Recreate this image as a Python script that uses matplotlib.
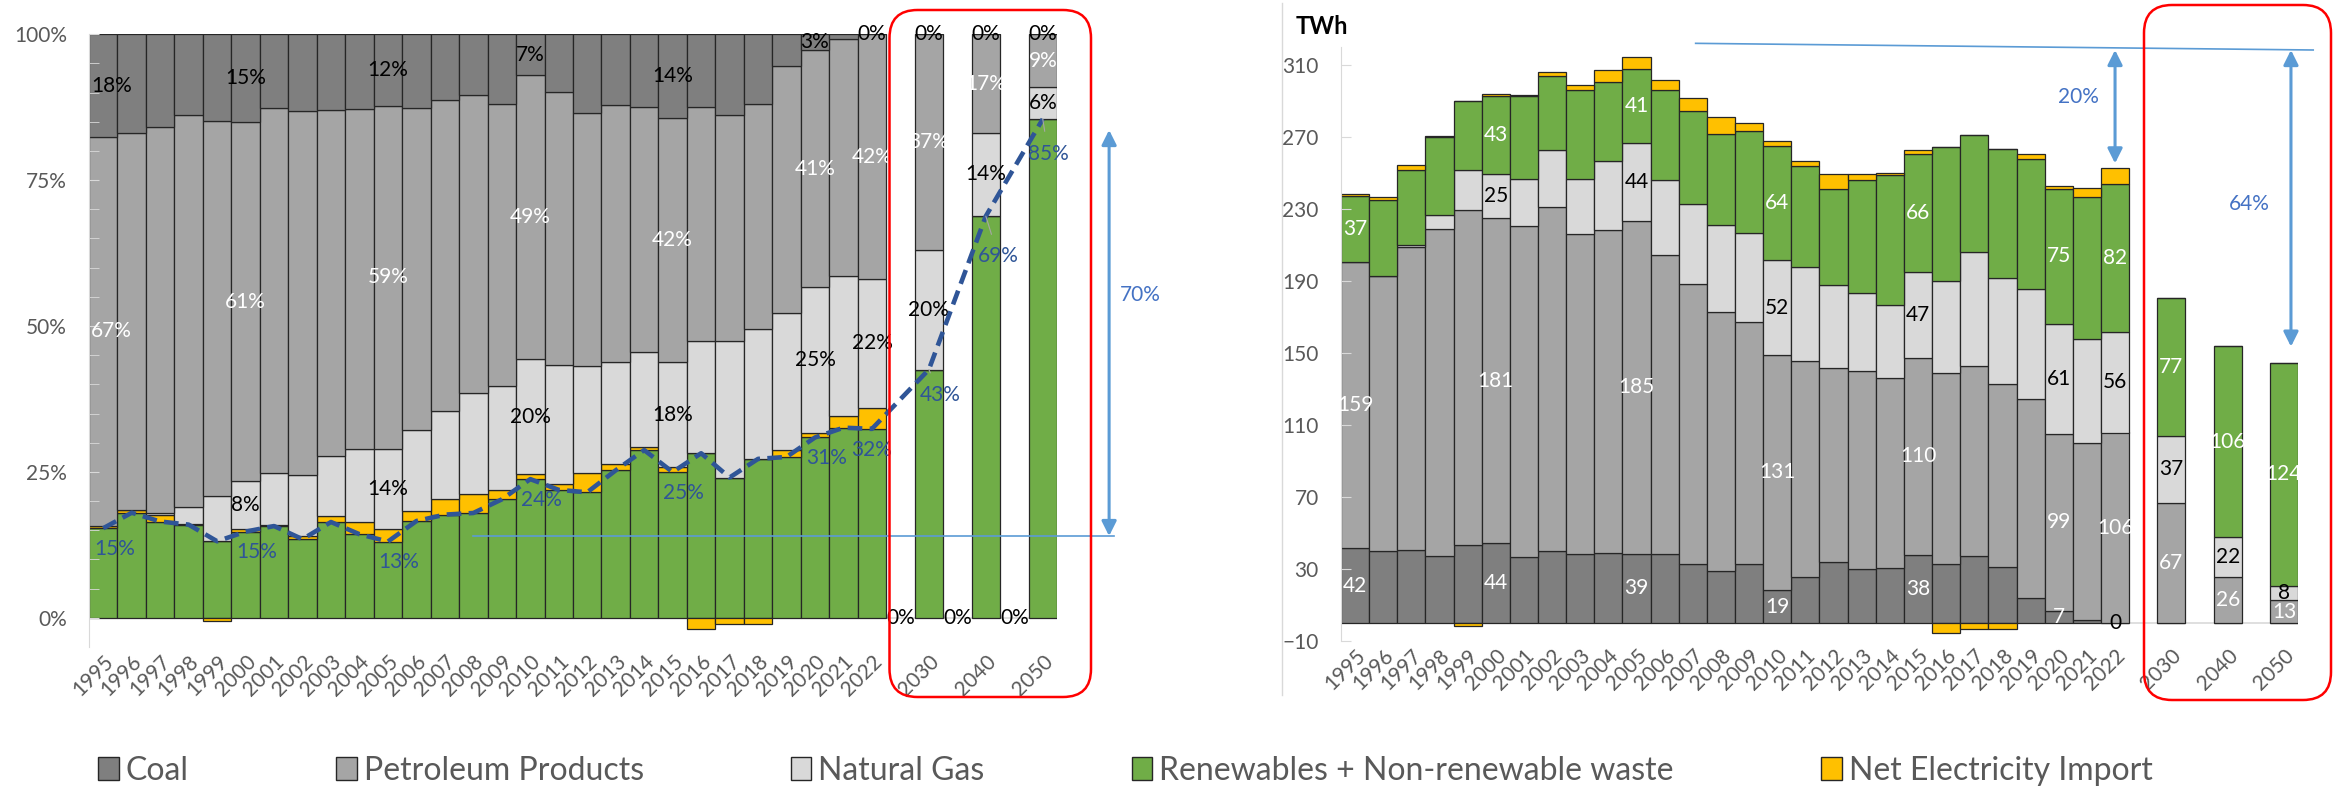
import numpy as np
import matplotlib.pyplot as plt
from matplotlib.patches import FancyBboxPatch, Patch

plt.rcParams['font.family'] = ['Lato', 'DejaVu Sans']

# Data (TWh)
years = [str(y) for y in range(1995, 2023)] + ['2030', '2040', '2050']
coal = [42, 40, 40.5, 37.4, 43.3, 44.4, 37, 40.4, 38.7, 39.3, 38.7, 38.3, 33.1, 29.3, 33.1,
        18.6, 25.6, 33.9, 30.4, 31, 37.8, 32.8, 37.4, 31.3, 14.3, 6.6, 2.1, 0, 0, 0, 0]
petroleum = [159, 152.8, 168.4, 181.7, 186.1, 180.6, 183.7, 190.9, 177.4, 179, 184.8, 166.5,
             155.6, 143.7, 134.3, 130.6, 120.2, 108, 109.6, 105.3, 109.8, 106.5, 105.4, 101.9,
             110.2, 98.8, 98.1, 106, 67, 26, 13]
gas = [0, 0, 1, 7.9, 22.6, 24.6, 26.3, 31.8, 30.9, 38.6, 43.6, 41.7, 44.1, 48.5, 49.5, 52.4,
       52.2, 45.9, 43.5, 40.7, 47.4, 50.7, 63.3, 58.7, 61.4, 60.9, 57.9, 56, 37, 22, 8]
renewables = [36.6, 42.6, 42, 43.2, 38, 43.4, 46.1, 41.2, 49.1, 44, 41.1, 50, 51.6, 50.5, 56.4,
              63.6, 56.3, 53.7, 63, 71.9, 65.6, 74.6, 65.2, 71.8, 71.9, 75.1, 78.8, 81.9,
              77, 106, 123.6]
imports = [1.0, 1.3, 2.8, 0.5, -1.5, 1.1, 0.3, 1.8, 3.2, 6.5, 6.6, 5.2, 7.6, 9.3, 4.7, 2.5,
           2.6, 8.3, 2.9, 1.3, 2.2, -5.3, -2.9, -2.9, 3.1, 1.7, 5, 9.1, 0, 0, 0]
label_years = ['1995', '2000', '2005', '2010', '2015', '2020', '2022', '2030', '2040', '2050']
gap_labels = ['0%', '0%', '0%']

series = ['Coal', 'Petroleum Products', 'Natural Gas',
          'Renewables + Non-renewable waste', 'Net Electricity Import']
colors = ['#7f7f7f', '#a5a5a5', '#d9d9d9', '#70ad47', '#ffc000']

# category slots: 28 historic years, then an empty slot before each scenario year
xpos = np.array(list(range(28)) + [29, 31, 33])
gap_pos = [28, 30, 32]

vals = np.array([coal, petroleum, gas, renewables, imports], dtype=float)
pos_total = vals[:4].sum(axis=0) + np.clip(vals[4], 0, None)
shares = vals / pos_total

W, H = 2333, 787
fig = plt.figure(figsize=(W / 100, H / 100), dpi=100)


def rect(x0, y0, x1, y1):
    return [x0 / W, 1 - y1 / H, (x1 - x0) / W, (y1 - y0) / H]


axL = fig.add_axes(rect(89, 34.3, 1057, 646.9))
axR = fig.add_axes(rect(1341, 47.3, 2298, 641.3))

EDGE = '#262626'
GREY = '#595959'
BLUE_TXT = '#2f5597'
ARROW = '#5b9bd5'
FS = 15


def stack(ax, data, order):
    # returns (bottom, top) of every series, stacked in the given order
    bottom = np.zeros(len(xpos))
    seg = {}
    for k in order:
        v = data[k]
        pos = np.clip(v, 0, None)
        neg = np.clip(v, None, 0)
        ax.bar(xpos, pos, 1.0, bottom=bottom, color=colors[k], edgecolor=EDGE, lw=0.9)
        if (neg < 0).any():
            m = neg < 0
            ax.bar(xpos[m], neg[m], 1.0, color=colors[k], edgecolor=EDGE, lw=0.9)
        seg[k] = (bottom.copy(), bottom + pos)
        bottom = bottom + pos
    return seg


def style(ax):
    for s in ['top', 'right', 'bottom']:
        ax.spines[s].set_visible(False)
    ax.spines['left'].set_color('#d9d9d9')
    ax.set_xlim(-0.5, 33.5)
    ax.set_xticks(xpos)
    ax.set_xticklabels(years, rotation=45, ha='right', rotation_mode='anchor',
                       fontsize=15, color=GREY)
    ax.tick_params(axis='x', length=0, pad=3)
    ax.tick_params(axis='y', direction='in', length=7, color='#d9d9d9',
                   labelsize=15, labelcolor=GREY, pad=16)
    ax.axhline(0, color='#d9d9d9', lw=1.2, zorder=0.5)


def mid(seg, k, i):
    return (seg[k][0][i] + seg[k][1][i]) / 2


# ---------------- left: shares ----------------
segL = stack(axL, shares, [3, 4, 2, 1, 0])
style(axL)
axL.set_ylim(-0.05, 1.0)
axL.set_yticks([0, 0.25, 0.5, 0.75, 1.0])
axL.set_yticklabels(['0%', '25%', '50%', '75%', '100%'])
axL.set_yticks(np.arange(0, 1.001, 0.05), minor=True)
axL.tick_params(axis='y', which='minor', direction='in', length=7, color='#d9d9d9')

idx = {y: i for i, y in enumerate(years)}
for y in label_years:
    i = idx[y]
    x = xpos[i] + (0.3 if y == '1995' else 0)
    axL.text(x, mid(segL, 0, i), f'{shares[0][i] * 100:.0f}%',
             ha='center', va='center', fontsize=FS, color='black')
    axL.text(x, mid(segL, 1, i), f'{shares[1][i] * 100:.0f}%',
             ha='center', va='center', fontsize=FS, color='white')
    if gas[i] > 0:
        axL.text(x, mid(segL, 2, i), f'{shares[2][i] * 100:.0f}%',
                 ha='center', va='center', fontsize=FS, color='black')

for g, t in zip(gap_pos, gap_labels):
    axL.text(g, 0.0, t, ha='center', va='center', fontsize=FS, color='black')

# renewable share line
axL.plot(xpos, shares[3], color=BLUE_TXT, lw=3.3, ls=(0, (3.2, 1.6)), zorder=5)
offsets = {'2022': (0, -15), '2030': (8, -18), '2040': (9, -29), '2050': (4, -25)}
for y in label_years:
    i = idx[y]
    dx, dy = offsets.get(y, (8, -15))
    arrow = None
    if y in ('2030', '2040', '2050'):
        arrow = dict(arrowstyle='-', color='#a6a6a6', lw=0.8, shrinkA=7, shrinkB=0)
    axL.annotate(f'{shares[3][i] * 100:.0f}%', (xpos[i], shares[3][i]),
                 xytext=(dx, dy), textcoords='offset points', ha='center', va='center',
                 fontsize=FS, color=BLUE_TXT, zorder=6, arrowprops=arrow)

axL.plot([13.0, 35.5], [0.14, 0.14], color=ARROW, lw=1.2, clip_on=False, zorder=4)
axL.annotate('', xy=(35.33, 0.836), xytext=(35.33, 0.14), annotation_clip=False,
             arrowprops=dict(arrowstyle='<|-|>', mutation_scale=22, lw=2.2, color=ARROW,
                             shrinkA=0, shrinkB=0))
axL.text(36.42, 0.554, '70%', ha='center', va='center', fontsize=FS, color='#4472c4')

# ---------------- right: TWh ----------------
segR = stack(axR, vals, [0, 1, 2, 3, 4])
style(axR)
axR.set_ylim(-10, 320)
axR.set_yticks(np.arange(-10, 311, 40))

for y in label_years:
    i = idx[y]
    x = xpos[i]
    if i < 28:
        axR.text(x, mid(segR, 0, i), f'{coal[i]:.0f}', ha='center', va='center',
                 fontsize=FS, color='black' if coal[i] == 0 else 'white')
    axR.text(x, mid(segR, 1, i), f'{petroleum[i]:.0f}', ha='center',
             va='center', fontsize=FS, color='white')
    if gas[i] > 0:
        axR.text(x, mid(segR, 2, i), f'{gas[i]:.0f}', ha='center', va='center',
                 fontsize=FS, color='black')
    axR.text(x, mid(segR, 3, i), f'{renewables[i]:.0f}', ha='center',
             va='center', fontsize=FS, color='white')

axR.plot([12.1, 34.04], [322.2, 318.5], color=ARROW, lw=1.2, clip_on=False, zorder=4)
for xa, y0, y1 in [(27.0, 255.5, 318.5), (33.25, 153.7, 318.5)]:
    axR.annotate('', xy=(xa, y1), xytext=(xa, y0), annotation_clip=False,
                 arrowprops=dict(arrowstyle='<|-|>', mutation_scale=22, lw=2.2, color=ARROW,
                                 shrinkA=0, shrinkB=0))
axR.text(25.7, 292.6, '20%', ha='center', va='center', fontsize=FS, color='#4472c4')
axR.text(31.77, 232.9, '64%', ha='center', va='center', fontsize=FS, color='#4472c4')

# ---------------- overlay: frames, boxes, legend ----------------
ov = fig.add_axes([0, 0, 1, 1], zorder=10)
ov.set_xlim(0, W)
ov.set_ylim(H, 0)
ov.axis('off')
ov.patch.set_alpha(0)
ov.plot([1282, 1282], [3, 695], color='#d9d9d9', lw=1)
for x0, y0, x1, y1 in [(889.5, 10, 1091, 697), (2144, 5, 2331, 700)]:
    ov.add_patch(FancyBboxPatch((x0, y0), x1 - x0, y1 - y0,
                                boxstyle='round,pad=0,rounding_size=28',
                                fill=False, edgecolor='#ff0000', lw=1.8))
ov.text(1296, 27, 'TWh', ha='left', va='center', fontsize=17, fontweight='bold')

handles = [Patch(facecolor=c, edgecolor=EDGE, lw=1) for c in colors]
fig.legend(handles, series, loc='center left', bbox_to_anchor=(98 / W, 1 - 771 / H),
           ncol=5, frameon=False, fontsize=23, handlelength=0.65, handleheight=0.72,
           handletextpad=0.22, columnspacing=4.6, borderpad=0, borderaxespad=0,
           labelcolor=GREY)

fig.savefig('out.png', dpi=100)
